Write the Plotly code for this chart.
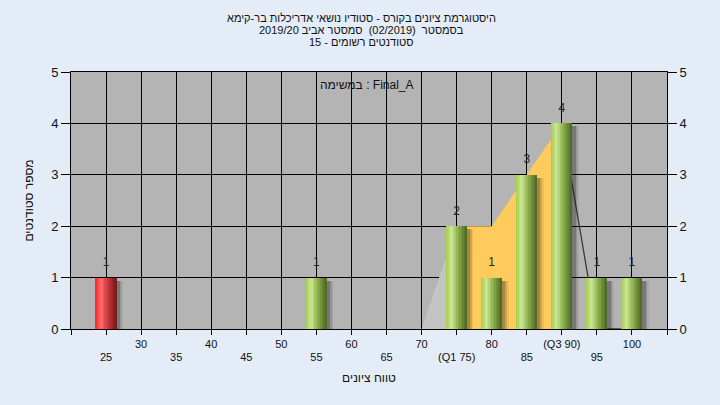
import plotly.graph_objects as go

# ---------------- data ----------------
bins = [25, 30, 35, 40, 45, 50, 55, 60, 65, 70, 75, 80, 85, 90, 95, 100]
counts = [1, 0, 0, 0, 0, 0, 1, 0, 0, 0, 2, 1, 3, 4, 1, 1]
tick_labels = ["25", "30", "35", "40", "45", "50", "55", "60", "65", "70",
               "(Q1 75)", "80", "85", "(Q3 90)", "95", "100"]
pass_mark = 55

area_x = [70, 75, 80, 85, 90, 95, 100]
area_y = [0, 2, 2, 3, 4, 0, 0]

title_lines = [
    "היסטוגרמת ציונים בקורס - סטודיו נושאי אדריכלות בר-קימא",
    "בסמסטר  (02/2019)  סמסטר אביב 2019/20",
    "סטודנטים רשומים - 15",
]
note_text = "במשימה : Final_A"
x_title = "טווח ציונים"
y_title = "מספר סטודנטים"

# ---------------- style ----------------
FONT = "Liberation Sans, Arial, DejaVu Sans, sans-serif"
BAR_W = 3.0
N_SLICES = 14
X_RANGE = [20, 105]
Y_RANGE = [0, 5]


def hex2rgb(h):
    h = h.lstrip("#")
    return tuple(int(h[i:i + 2], 16) for i in (0, 2, 4))


def grad(stops, t):
    for (p0, c0), (p1, c1) in zip(stops, stops[1:]):
        if p0 <= t <= p1:
            f = (t - p0) / (p1 - p0) if p1 > p0 else 0
            a, b = hex2rgb(c0), hex2rgb(c1)
            return "rgb(%d,%d,%d)" % tuple(round(a[k] + (b[k] - a[k]) * f) for k in range(3))
    return stops[-1][1]


green_stops = [(0.0, "#9fcb3e"), (0.28, "#cde79a"), (0.5, "#9cbf5a"),
               (0.8, "#6a8a36"), (1.0, "#4b6524")]
red_stops = [(0.0, "#ff2424"), (0.28, "#ff7070"), (0.5, "#d84444"),
             (0.8, "#a02828"), (1.0, "#701818")]

bx = [b for b, c in zip(bins, counts) if c > 0]
by = [c for c in counts if c > 0]

fig = go.Figure()

# area (main axes, under the bars)
fig.add_trace(go.Scatter(
    x=area_x[0:2] + area_x[0:2][::-1], y=area_y[0:2] + [0] * 2,
    fill="toself", fillcolor="#c4c4c4", line=dict(width=0), mode="lines",
    hoverinfo="skip", showlegend=False, xaxis="x", yaxis="y"))
fig.add_trace(go.Scatter(
    x=area_x[1:5] + area_x[1:5][::-1], y=area_y[1:5] + [0] * 4,
    fill="toself", fillcolor="#ffcb5c", line=dict(width=0), mode="lines",
    hoverinfo="skip", showlegend=False, xaxis="x", yaxis="y"))
fig.add_trace(go.Scatter(
    x=area_x[4:], y=area_y[4:], mode="lines",
    line=dict(color="#3a3a3a", width=1.3),
    hoverinfo="skip", showlegend=False, xaxis="x", yaxis="y"))

# bar shadows (overlay axes)
for off, op in [(0.9, 0.08), (0.7, 0.14), (0.45, 0.22)]:
    fig.add_trace(go.Bar(
        x=bx, y=[v - 0.06 for v in by], width=BAR_W, offset=-BAR_W / 2 + off,
        marker=dict(color="rgba(25,25,25,%.2f)" % op, line=dict(width=0)),
        hoverinfo="skip", showlegend=False, xaxis="x2", yaxis="y2"))

# bars as gradient slices
for i in range(N_SLICES):
    t = (i + 0.5) / N_SLICES
    cols = [grad(red_stops if b < pass_mark else green_stops, t) for b in bx]
    fig.add_trace(go.Bar(
        x=bx, y=by, width=BAR_W / N_SLICES * 1.02,
        offset=-BAR_W / 2 + i * BAR_W / N_SLICES,
        marker=dict(color=cols, line=dict(width=0)),
        hoverinfo="skip", showlegend=False, xaxis="x2", yaxis="y2"))

# value labels
fig.add_trace(go.Scatter(
    x=bx, y=by, text=[str(v) for v in by], mode="markers+text",
    marker=dict(size=12, opacity=0),
    textposition="top center",
    textfont=dict(family=FONT, size=12, color="#1e2430"),
    hoverinfo="skip", showlegend=False, xaxis="x2", yaxis="y2"))

all_ticks = [X_RANGE[0]] + bins + [X_RANGE[1]]
top_text = [""] + [t if i % 2 == 1 else "" for i, t in enumerate(tick_labels)] + [""]
low_vals = [b for i, b in enumerate(bins) if i % 2 == 0]
low_text = [t for i, t in enumerate(tick_labels) if i % 2 == 0]

axis_font = dict(family=FONT, size=11, color="#111111")

annotations = []
for yy, line in zip([1.212, 1.163, 1.116], title_lines):
    annotations.append(dict(text=line, xref="paper", yref="paper", x=0.487, y=yy,
                            showarrow=False, xanchor="center", yanchor="middle",
                            font=dict(family=FONT, size=11, color="#111111")))
annotations.append(dict(text=note_text, xref="paper", yref="paper", x=0.497, y=0.949,
                        showarrow=False, xanchor="center", yanchor="middle",
                        font=dict(family=FONT, size=12, color="#111111")))

fig.update_layout(
    width=720, height=405,
    margin=dict(l=71, r=53, t=72, b=76),
    paper_bgcolor="#e3ecf7", plot_bgcolor="#b4b4b4",
    barmode="overlay", bargap=0,
    font=dict(family=FONT, size=12, color="#111111"),
    annotations=annotations,
    xaxis=dict(range=X_RANGE, tickmode="array", tickvals=all_ticks, ticktext=top_text,
               showgrid=True, gridcolor="#000000", gridwidth=1,
               showline=True, linecolor="#000000", linewidth=1, mirror=True,
               ticks="outside", ticklen=5, tickcolor="#000000", automargin=False,
               tickfont=axis_font, zeroline=False, fixedrange=True,
               title=dict(text=x_title, font=dict(family=FONT, size=12, color="#111111"),
                          standoff=24)),
    xaxis2=dict(range=X_RANGE, overlaying="x", anchor="y2", side="bottom",
                tickmode="array", tickvals=low_vals, ticktext=low_text, automargin=False,
                showgrid=False, showline=False, ticks="", zeroline=False,
                ticklabelstandoff=20, tickfont=axis_font),
    yaxis=dict(range=Y_RANGE, dtick=1, showgrid=True, gridcolor="#000000", gridwidth=1,
               showline=True, linecolor="#000000", linewidth=1, mirror=True,
               ticks="outside", ticklen=9, tickcolor="#000000", zeroline=False,
               automargin=False,
               tickfont=dict(family=FONT, size=13, color="#111111"),
               title=dict(text=y_title, font=dict(family=FONT, size=12, color="#111111"),
                          standoff=14)),
    yaxis2=dict(range=Y_RANGE, dtick=1, overlaying="y", anchor="x2", side="right",
                showgrid=False, showline=False, zeroline=False, automargin=False,
                ticks="outside", ticklen=9, tickcolor="#000000",
                tickfont=dict(family=FONT, size=13, color="#111111")),
)

fig.write_html("out.html", config={"displayModeBar": False},
               post_script="document.body.style.margin='0';")
